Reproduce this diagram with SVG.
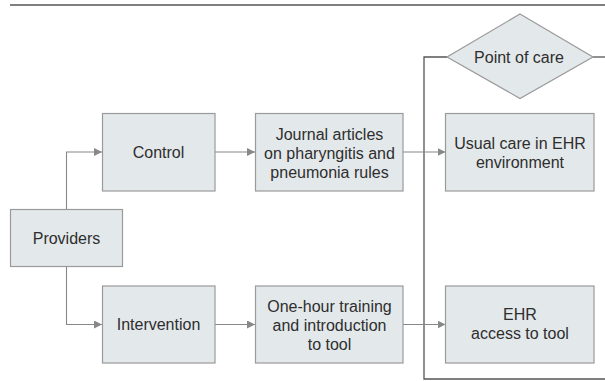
<svg xmlns="http://www.w3.org/2000/svg" width="605" height="381" viewBox="0 0 605 381">
<style>
.box{fill:#e3e8eb;stroke:#9a9a9a;stroke-width:1.2}
.t{font-family:"Liberation Sans",Arial,sans-serif;font-size:16px;fill:#2e2e2e;text-anchor:middle}
.c{fill:none;stroke:#888;stroke-width:1.1}
.b{fill:none;stroke:#555;stroke-width:1.3}
</style>
<defs>
<marker id="ah" viewBox="0 0 8 8" refX="8" refY="4" markerWidth="8" markerHeight="8" markerUnits="userSpaceOnUse" orient="auto">
<path d="M0,0 L8,4 L0,8 Z" fill="#888"/>
</marker>
</defs>
<line x1="10" y1="5" x2="605" y2="5" stroke="#555" stroke-width="1.5"/>
<g id="connectors">
<polyline class="c" points="66.5,209 66.5,152 102,152" marker-end="url(#ah)"/>
<polyline class="c" points="66.5,267 66.5,324.5 102,324.5" marker-end="url(#ah)"/>
<line class="c" x1="215" y1="152" x2="255" y2="152" marker-end="url(#ah)"/>
<line class="c" x1="215" y1="324.5" x2="255" y2="324.5" marker-end="url(#ah)"/>
<polyline class="b" points="447,57 424,57 424,379 605,379"/>
<line class="b" x1="593" y1="57" x2="605" y2="57"/>
<line class="c" x1="403" y1="152" x2="445.5" y2="152" marker-end="url(#ah)"/>
<line class="c" x1="403" y1="324.5" x2="445.5" y2="324.5" marker-end="url(#ah)"/>
</g>
<g id="providers">
<rect class="box" x="10.5" y="209.5" width="112" height="57"/>
<text class="t" x="66.5" y="243.5">Providers</text>
</g>
<g id="control">
<rect class="box" x="102.5" y="113.5" width="112.5" height="77.5"/>
<text class="t" x="158.5" y="158">Control</text>
</g>
<g id="intervention">
<rect class="box" x="102.5" y="286" width="112.5" height="77"/>
<text class="t" x="158.5" y="330">Intervention</text>
</g>
<g id="journal">
<rect class="box" x="255.5" y="113.5" width="147.5" height="77.5"/>
<text class="t" x="329.5" y="140">Journal articles</text>
<text class="t" x="329.5" y="159">on pharyngitis and</text>
<text class="t" x="329.5" y="178">pneumonia rules</text>
</g>
<g id="training">
<rect class="box" x="255.5" y="286" width="147.5" height="77"/>
<text class="t" x="329.5" y="311.5">One-hour training</text>
<text class="t" x="329.5" y="330.5">and introduction</text>
<text class="t" x="329.5" y="349.5">to tool</text>
</g>
<g id="pointofcare">
<polygon class="box" points="520,14 593,57 520,98.5 447,57"/>
<text class="t" x="519" y="63">Point of care</text>
</g>
<g id="usualcare">
<rect class="box" x="445.5" y="113.5" width="148.5" height="77.5"/>
<text class="t" x="520" y="149">Usual care in EHR</text>
<text class="t" x="520" y="167.5">environment</text>
</g>
<g id="ehr">
<rect class="box" x="445.5" y="286" width="148.5" height="77"/>
<text class="t" x="520" y="320">EHR</text>
<text class="t" x="520" y="339">access to tool</text>
</g>
</svg>
